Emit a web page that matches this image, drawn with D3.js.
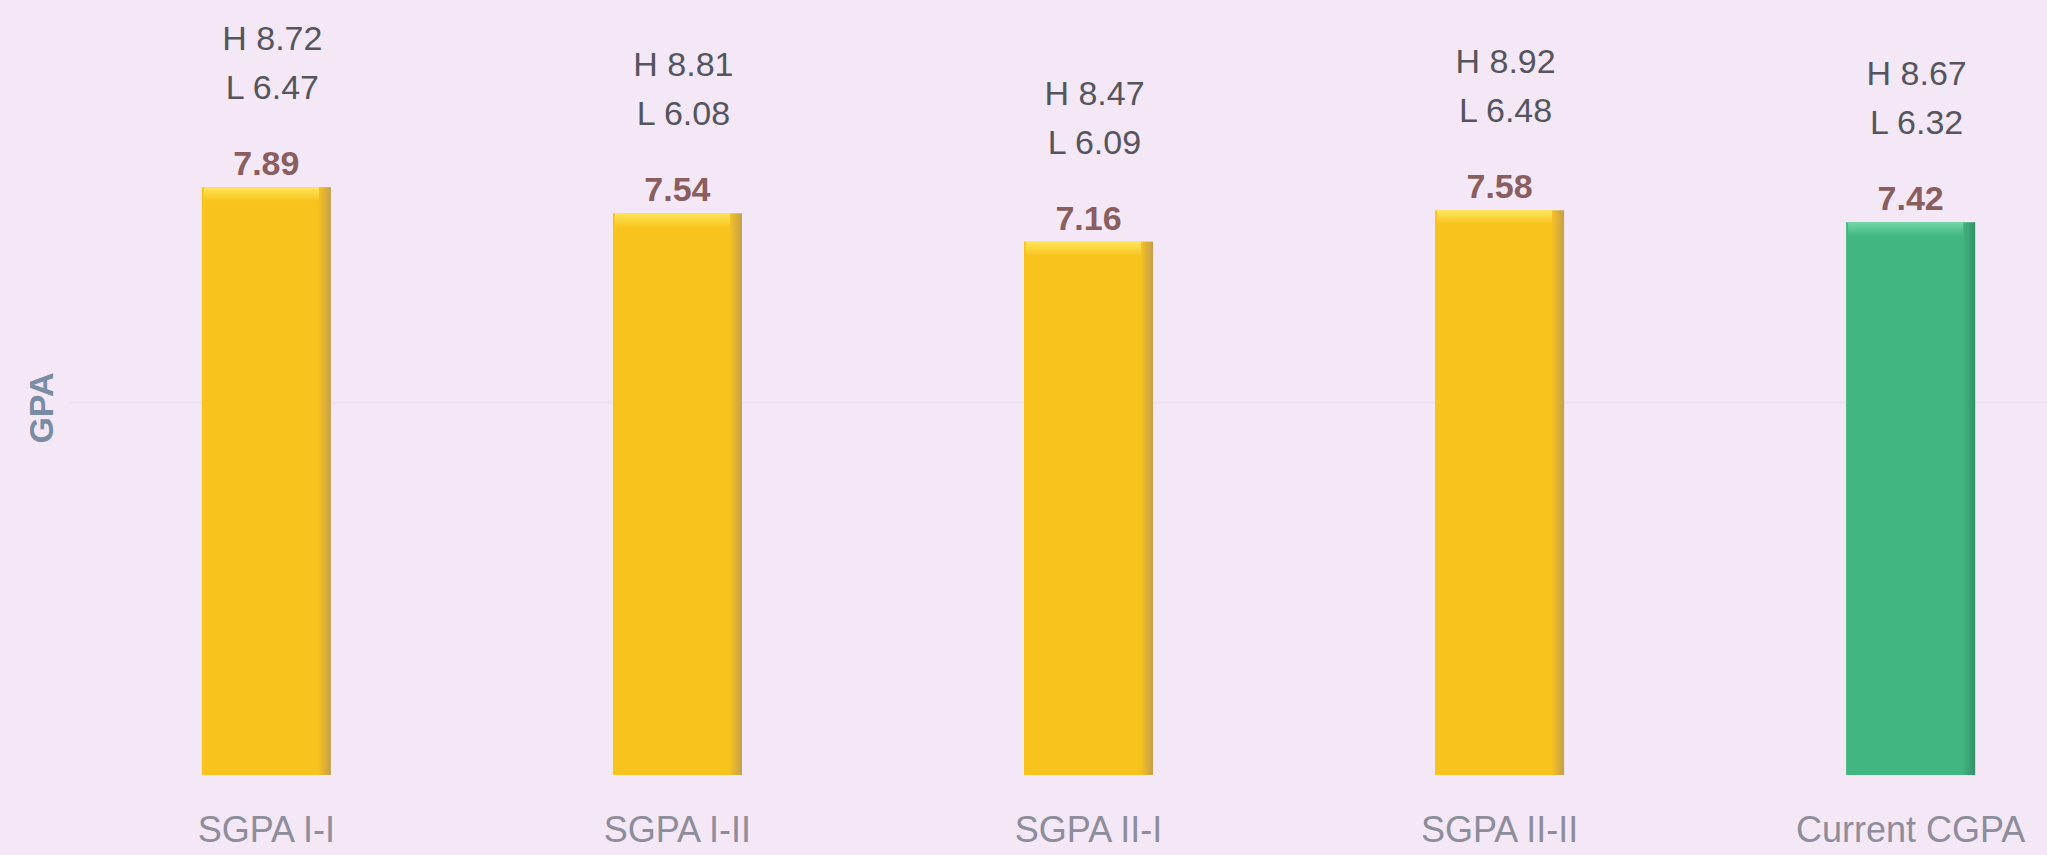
<!DOCTYPE html>
<html lang="en">
<head>
<meta charset="utf-8">
<title>GPA chart</title>
<script src="https://cdn.jsdelivr.net/npm/d3@7"></script>
<style>
  html, body { margin: 0; padding: 0; background: #f4e8f6; }
  svg { display: block; font-family: "Liberation Sans", Arial, sans-serif; }
</style>
</head>
<body>
<script>
var categories = ["SGPA I-I", "SGPA I-II", "SGPA II-I", "SGPA II-II", "Current CGPA"];
var averages = [7.89, 7.54, 7.16, 7.58, 7.42];
var highs = ["8.72", "8.81", "8.47", "8.92", "8.67"];
var lows = ["6.47", "6.08", "6.09", "6.48", "6.32"];
var gridValues = [5];

var width = 2047, height = 855;

var svg = d3.select("body").append("svg")
    .attr("width", width)
    .attr("height", height);

var defs = svg.append("defs");

function bevel(id, light, mid, dark) {
  var g = defs.append("linearGradient").attr("id", id)
      .attr("x1", 0).attr("y1", 0).attr("x2", 1).attr("y2", 0);
  g.append("stop").attr("offset", "0%").attr("stop-color", mid);
  g.append("stop").attr("offset", "90%").attr("stop-color", mid);
  g.append("stop").attr("offset", "100%").attr("stop-color", dark);
  var t = defs.append("linearGradient").attr("id", id + "-top")
      .attr("x1", 0).attr("y1", 0).attr("x2", 0).attr("y2", 1);
  t.append("stop").attr("offset", "0%").attr("stop-color", light).attr("stop-opacity", 0.8);
  t.append("stop").attr("offset", "100%").attr("stop-color", light).attr("stop-opacity", 0);
}
bevel("yel", "#fff06a", "#f9c31e", "#c3a04c");
bevel("grn", "#7ee0b0", "#42b680", "#33906a");

var x = d3.scaleBand()
    .domain(categories)
    .range([60, 2117])
    .paddingInner(0.686)
    .paddingOuter(0.345);

var y = d3.scaleLinear()
    .domain([0, 10])
    .range([775, 30]);

// faint gridline
svg.selectAll(".grid")
    .data(gridValues)
    .enter().append("line")
    .attr("x1", 70).attr("x2", width)
    .attr("y1", function(d) { return y(d); })
    .attr("y2", function(d) { return y(d); })
    .attr("stroke", "#ecdff0")
    .attr("stroke-width", 2);

var bars = svg.selectAll(".bar")
    .data(categories)
    .enter().append("g")
    .attr("class", "bar");

bars.append("rect")
    .attr("x", function(d) { return x(d); })
    .attr("y", function(d, i) { return y(averages[i]); })
    .attr("width", x.bandwidth())
    .attr("height", function(d, i) { return y(0) - y(averages[i]); })
    .attr("fill", function(d, i) { return i === 4 ? "url(#grn)" : "url(#yel)"; });

bars.append("rect")
    .attr("x", function(d) { return x(d) + 2; })
    .attr("y", function(d, i) { return y(averages[i]); })
    .attr("width", x.bandwidth() - 14)
    .attr("height", 14)
    .attr("fill", function(d, i) { return i === 4 ? "url(#grn-top)" : "url(#yel-top)"; });

// average labels
bars.append("text")
    .attr("x", function(d) { return x(d) + x.bandwidth() / 2; })
    .attr("y", function(d, i) { return y(averages[i]) - 12; })
    .attr("text-anchor", "middle")
    .attr("font-size", 34)
    .attr("font-weight", "bold")
    .attr("fill", "#8a5d5e")
    .text(function(d, i) { return averages[i].toFixed(2); });

// high / low labels
bars.append("text")
    .attr("x", function(d) { return x(d) + x.bandwidth() / 2 + 6; })
    .attr("y", function(d, i) { return y(averages[i]) - 137; })
    .attr("text-anchor", "middle")
    .attr("font-size", 34)
    .attr("fill", "#55555e")
    .text(function(d, i) { return "H " + highs[i]; });

bars.append("text")
    .attr("x", function(d) { return x(d) + x.bandwidth() / 2 + 6; })
    .attr("y", function(d, i) { return y(averages[i]) - 88; })
    .attr("text-anchor", "middle")
    .attr("font-size", 34)
    .attr("fill", "#55555e")
    .text(function(d, i) { return "L " + lows[i]; });

// category axis
var xAxis = d3.axisBottom(x).tickSize(0).tickPadding(0);
var gx = svg.append("g")
    .attr("transform", "translate(0,816)")
    .call(xAxis);
gx.select(".domain").remove();
gx.selectAll("text")
    .attr("dy", "0.71em")
    .attr("font-size", 36)
    .attr("font-family", "Liberation Sans, Arial, sans-serif")
    .attr("fill", "#8d8d9c");

// y label
svg.append("text")
    .attr("transform", "translate(53,408) rotate(-90)")
    .attr("text-anchor", "middle")
    .attr("font-size", 34)
    .attr("font-weight", "bold")
    .attr("fill", "#7a8ca4")
    .text("GPA");
</script>
</body>
</html>
